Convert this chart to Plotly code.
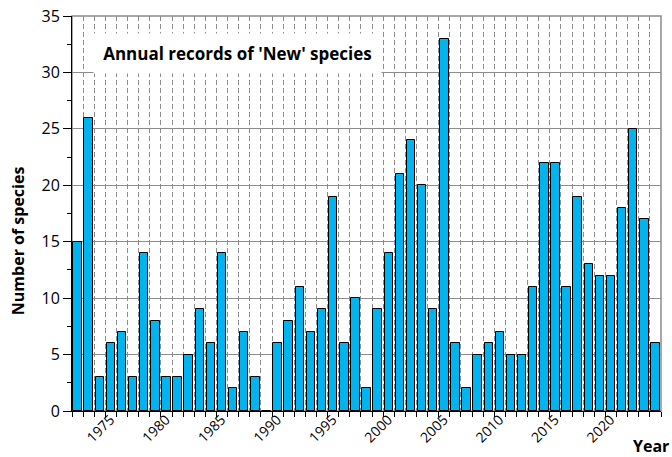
import plotly.graph_objects as go

years = list(range(1971, 2024))
counts = [15, 26, 3, 6, 7, 3, 14, 8, 3, 3,
          5, 9, 6, 14, 2, 7, 3, 0, 6, 8,
          11, 7, 9, 19, 6, 10, 2, 9, 14, 21,
          24, 20, 9, 33, 6, 2, 5, 6, 7, 5,
          5, 11, 22, 22, 11, 19, 13, 12, 12, 18,
          25, 17, 6]
title_text = "Annual records of 'New' species"
x_title = "Year"
y_title = "Number of species"

FONT = "Open Sans"
grid_col = "#8c8c8c"

fig = go.Figure()
fig.add_trace(go.Bar(
    x=[y + 0.5 for y in years],
    y=counts,
    width=0.76,
    marker=dict(color="#00b4f0", line=dict(color="black", width=1)),
    hoverinfo="x+y",
))

fig.update_layout(
    width=672, height=457,
    margin=dict(l=72, r=11, t=16, b=46),
    plot_bgcolor="white", paper_bgcolor="white",
    showlegend=False,
    font=dict(family=FONT, size=14, color="black"),
    bargap=0,
    xaxis=dict(
        range=[1971, 2024],
        tick0=1975, dtick=5,
        tickangle=-45,
        ticks="outside", ticklen=5, tickcolor="black",
        tickfont=dict(size=14),
        ticklabelstandoff=-11,
        ticklabelshift=-6,
        showline=True, linecolor="black", linewidth=1,
        showgrid=True, gridcolor=grid_col, griddash="5px,3px", gridwidth=1,
        minor=dict(dtick=1, tick0=1971, ticks="outside", ticklen=5, tickcolor="black",
                   showgrid=True, gridcolor=grid_col, griddash="5px,3px", gridwidth=1),
        zeroline=False,
        automargin=False,
        ticklabeloverflow="allow",
    ),
    yaxis=dict(
        range=[0, 35],
        dtick=5,
        ticks="outside", ticklen=8, tickcolor="black",
        tickfont=dict(size=16),
        showline=True, linecolor="black", linewidth=1,
        showgrid=True, gridcolor=grid_col, gridwidth=1,
        minor=dict(dtick=2.5, ticks="outside", ticklen=4, tickcolor="black", showgrid=False),
        zeroline=False,
        automargin=False,
        ticklabeloverflow="allow",
    ),
    shapes=[dict(type="rect", xref="paper", yref="paper", x0=0, x1=1, y0=0, y1=1,
                 line=dict(color="#8a8a8a", width=1.5), layer="below")],
    annotations=[
        dict(text="<b>" + title_text + "</b>", xref="paper", yref="paper",
             x=0.036, y=0.957, xanchor="left", yanchor="top",
             showarrow=False, bgcolor="white", width=287, height=39, borderpad=0,
             font=dict(size=17, family=FONT)),
        dict(text="<b>" + x_title + "</b>", xref="paper", yref="paper",
             x=1.0, y=0, xanchor="right", yanchor="middle", yshift=-35, xshift=10,
             showarrow=False, font=dict(size=16, family=FONT)),
        dict(text="<b>" + y_title + "</b>", xref="paper", yref="paper",
             x=0, y=0.43, xanchor="center", yanchor="middle", xshift=-54,
             textangle=-90, showarrow=False, font=dict(size=16, family=FONT)),
    ],
)

fig.write_html("out.html",
               config={"displayModeBar": False},
               post_script="document.body.style.margin='0px';document.body.style.overflow='hidden';")
